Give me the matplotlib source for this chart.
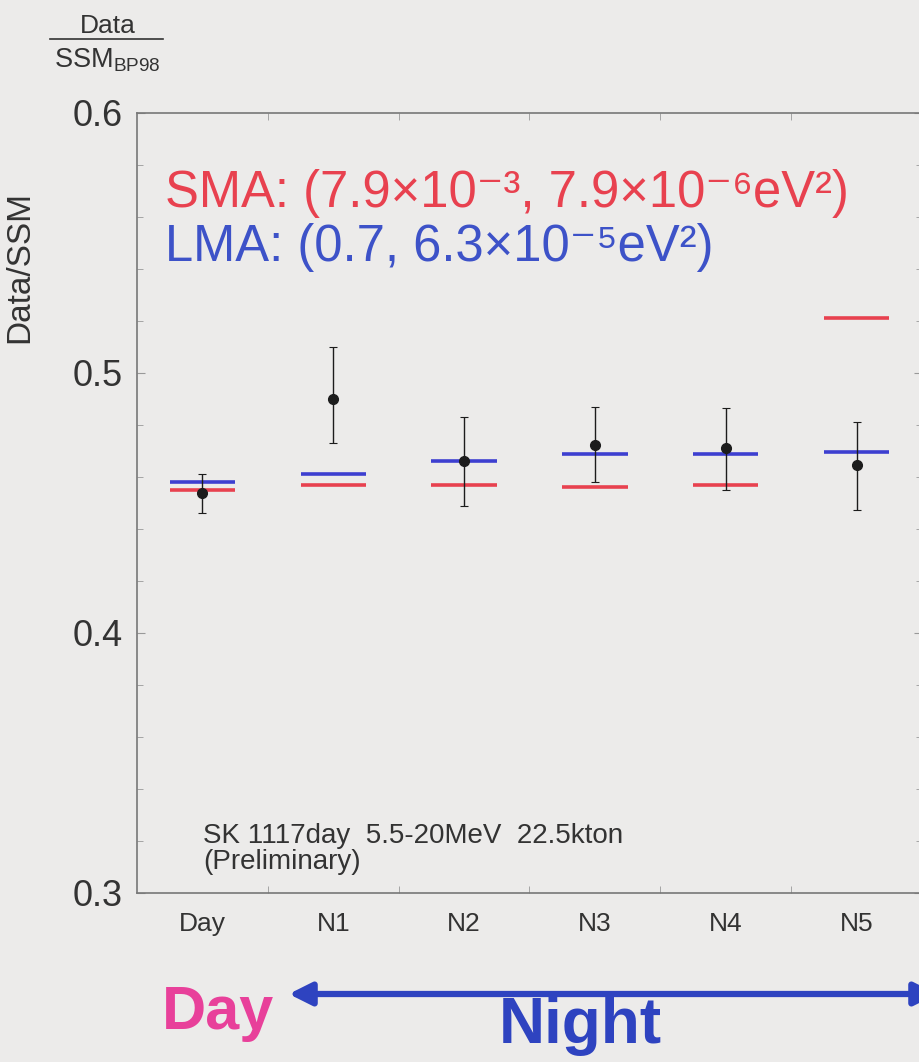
import numpy as np
import matplotlib
matplotlib.use("Agg")
import matplotlib.pyplot as plt
from matplotlib.ticker import MultipleLocator, FixedLocator

plt.rcParams["font.family"] = ["Liberation Sans", "DejaVu Sans"]
plt.rcParams["mathtext.fontset"] = "custom"
plt.rcParams["mathtext.rm"] = "Liberation Sans"

# data
categories = ["Day", "N1", "N2", "N3", "N4", "N5"]
data_val = [0.454, 0.490, 0.466, 0.4725, 0.471, 0.4645]
err_low = [0.446, 0.473, 0.449, 0.458, 0.455, 0.4475]
err_high = [0.461, 0.510, 0.483, 0.487, 0.4865, 0.481]
sma_val = [0.455, 0.457, 0.457, 0.456, 0.457, 0.521]
lma_val = [0.458, 0.461, 0.466, 0.469, 0.469, 0.4695]

bg = "#ecebea"
fig = plt.figure(figsize=(9.2, 10.62), dpi=100, facecolor=bg)
ax = fig.add_axes([137 / 920, 1 - 893 / 1062, (922 - 137) / 920, (893 - 113) / 1062])
ax.set_facecolor(bg)

x = np.arange(len(categories))
half = 0.25
ax.hlines(sma_val, x - half, x + half, color="#e8414f", lw=2.6, zorder=2)
ax.hlines(lma_val, x - half, x + half, color="#3d3fd0", lw=2.6, zorder=2)

yerr = [np.array(data_val) - np.array(err_low), np.array(err_high) - np.array(data_val)]
ax.errorbar(x, data_val, yerr=yerr, fmt="o", color="#1c1c1c", ms=7,
            elinewidth=1.0, capsize=3, capthick=0.8, zorder=3)

ax.set_xlim(-0.5, 5.5)
ax.set_ylim(0.3, 0.6)
ax.set_xticks(x)
ax.set_xticklabels(categories, fontsize=19, color="#333333")
ax.xaxis.set_minor_locator(FixedLocator(x[:-1] + 0.5))
ax.tick_params(axis="x", which="major", length=0, pad=14)
ax.tick_params(axis="x", which="minor", direction="in", length=5, color="#999999",
               top=True, bottom=True)
ax.yaxis.set_minor_locator(MultipleLocator(0.02))
ax.set_yticks([0.3, 0.4, 0.5, 0.6])
ax.set_yticklabels(["0.3", "0.4", "0.5", "0.6"], fontsize=26, color="#333333")
ax.tick_params(axis="y", which="both", direction="in", right=True, color="#999999")
ax.tick_params(axis="y", which="major", length=6, pad=10)
ax.tick_params(axis="y", which="minor", length=4)
for s in ax.spines.values():
    s.set_color("#777777")
    s.set_linewidth(1.2)

ax.text(0.036, 0.897, "SMA: (7.9\u00d710\u207b\u00b3, 7.9\u00d710\u207b\u2076eV\u00b2)",
        transform=ax.transAxes, fontsize=36.5, color="#e8414f", va="center")
ax.text(0.036, 0.827, "LMA: (0.7, 6.3\u00d710\u207b\u2075eV\u00b2)",
        transform=ax.transAxes, fontsize=36.5, color="#3d52c8", va="center")
ax.text(0.084, 0.073, "SK 1117day  5.5-20MeV  22.5kton", transform=ax.transAxes,
        fontsize=20, color="#333333", va="center")
ax.text(0.084, 0.04, "(Preliminary)", transform=ax.transAxes,
        fontsize=20, color="#333333", va="center")

# ratio label top-left
fig.text(108 / 920, 1 - 26 / 1062, "Data", fontsize=19, color="#333333",
         ha="center", va="center")
fig.add_artist(plt.Line2D([50 / 920, 163 / 920], [1 - 39 / 1062, 1 - 39 / 1062],
                          color="#333333", lw=1.2))
fig.text(107 / 920, 1 - 60 / 1062, "SSM$_{\\mathregular{BP98}}$", fontsize=19.5,
         color="#333333", ha="center", va="center")
fig.text(20 / 920, 1 - 267 / 1062, "Data/SSM", fontsize=24, color="#333333",
         rotation=90, ha="center", va="center")

# Day / Night arrow
fig.text(218 / 920, 1 - 1013 / 1062, "Day", fontsize=44, color="#e8409a",
         fontweight="bold", ha="center", va="center")
fig.text(580 / 920, 1 - 1026 / 1062, "Night", fontsize=46, color="#2e43c0",
         fontweight="bold", ha="center", va="center")
fig.add_artist(matplotlib.patches.FancyArrowPatch(
    (286 / 920, 1 - 994 / 1062), (940 / 920, 1 - 994 / 1062),
    transform=fig.transFigure, arrowstyle="<|-|>", mutation_scale=34,
    color="#2e43c0", lw=4.5))

fig.savefig("out.png", dpi=100, facecolor=bg)
